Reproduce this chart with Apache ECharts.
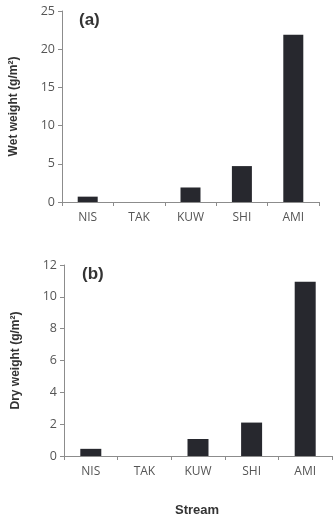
<!DOCTYPE html>
<html>
<head>
<meta charset="utf-8">
<script src="https://cdn.jsdelivr.net/npm/echarts@6/dist/echarts.min.js"></script>
<style>
  html, body { margin: 0; padding: 0; background: #fff; }
  #chart { width: 334px; height: 515px; }
</style>
</head>
<body>
<div id="chart"></div>
<script>
// stream sites
const streams = ['NIS', 'TAK', 'KUW', 'SHI', 'AMI']
// (a) wet weight, g/m2
const wetWeight = [0.7, 0, 1.9, 4.7, 21.9]
// (b) dry weight, g/m2
const dryWeight = [0.45, 0, 1.07, 2.1, 10.95]

const barColor = '#27282e'
const axisColor = '#8c8c8c'
const labelFont = { color: '#555', fontSize: 12, fontFamily: 'Open Sans' }

function makeX(gridIndex) {
    return {
        type: 'category',
        gridIndex,
        data: streams,
        axisLine: { lineStyle: { color: axisColor, width: 1 } },
        axisTick: { show: true, length: 4, lineStyle: { color: axisColor } },
        axisLabel: { ...labelFont, margin: 10 },
        splitLine: { show: false }
    }
}
function makeY(gridIndex, max, interval, name) {
    return {
        type: 'value',
        gridIndex,
        min: 0,
        max,
        interval,
        name,
        nameLocation: 'middle',
        nameGap: 42,
        nameTextStyle: { fontSize: 12, fontWeight: 'bold', color: '#333', fontFamily: 'Liberation Sans' },
        axisLine: { show: true, lineStyle: { color: axisColor, width: 1 } },
        axisTick: { show: true, length: 4, lineStyle: { color: axisColor } },
        axisLabel: { ...labelFont, fontSize: 12.5, margin: 7 },
        splitLine: { show: false }
    }
}

const chart = echarts.init(document.getElementById('chart'))
chart.setOption({
    animation: false,
    backgroundColor: '#fff',
    title: [
        { text: '(a)', left: 74, top: 7, textStyle: { fontSize: 17, fontWeight: 'bold', color: '#333', fontFamily: 'Liberation Sans' } },
        { text: '(b)', left: 77, top: 261, textStyle: { fontSize: 17, fontWeight: 'bold', color: '#333', fontFamily: 'Liberation Sans' } },
        { text: 'Stream', left: 192, top: 499, textAlign: 'center', textStyle: { fontSize: 13, fontWeight: 'bold', color: '#333', fontFamily: 'Liberation Sans' } }
    ],
    grid: [
        { left: 62, right: 15, top: 11, height: 191 },
        { left: 64, right: 2, top: 265, height: 191 }
    ],
    xAxis: [makeX(0), makeX(1)],
    yAxis: [
        makeY(0, 25, 5, 'Wet weight (g/m²)'),
        makeY(1, 12, 2, 'Dry weight (g/m²)')
    ],
    series: [
        { type: 'bar', xAxisIndex: 0, yAxisIndex: 0, data: wetWeight, barWidth: 20, itemStyle: { color: barColor } },
        { type: 'bar', xAxisIndex: 1, yAxisIndex: 1, data: dryWeight, barWidth: 21, itemStyle: { color: barColor } }
    ]
})
</script>
</body>
</html>
